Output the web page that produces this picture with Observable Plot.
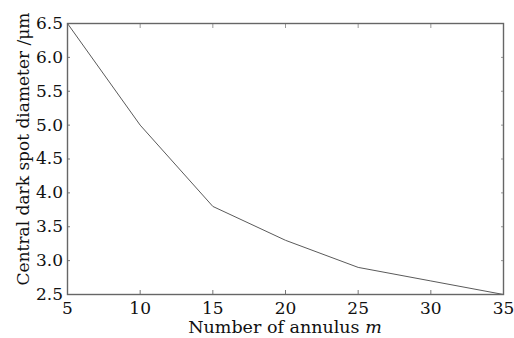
<!DOCTYPE html>
<html><head><meta charset="utf-8">
<script src="https://cdn.jsdelivr.net/npm/d3@7"></script>
<script src="https://cdn.jsdelivr.net/npm/@observablehq/plot@0.6"></script>
<style>html,body{margin:0;padding:0;background:#fff}</style>
</head><body><div id="chart"></div>
<script>
const annulus = [5, 10, 15, 20, 25, 30, 35];
const diameter = [6.5, 5.0, 3.8, 3.3, 2.9, 2.7, 2.5];
const xTicks = [5, 10, 15, 20, 25, 30, 35];
const yTicks = [2.5, 3.0, 3.5, 4.0, 4.5, 5.0, 5.5, 6.0, 6.5];
const xLabelText = "Number of annulus ";
const xLabelVar = "m";
const yLabelText = "Central dark spot diameter /μm";

const data = annulus.map((m, i) => ({m, d: diameter[i]}));
const W = 514, H = 338, mL = 67, mR = 11, mT = 23, mB = 44;
const font = "DejaVu Serif";

const plot = Plot.plot({
  width: W, height: H,
  marginLeft: mL, marginRight: mR, marginTop: mT, marginBottom: mB,
  style: {fontFamily: font, fontSize: "17px", color: "#111", background: "#fff"},
  x: {domain: [5, 35]},
  y: {domain: [2.5, 6.5]},
  marks: [
    Plot.axisX({ticks: xTicks, anchor: "bottom", tickSize: -4, tickPadding: 11, tickFormat: d => String(d), label: null, stroke: "#777"}),
    Plot.axisX({ticks: xTicks, anchor: "top", tickSize: -4, tickFormat: () => "", label: null, stroke: "#999"}),
    Plot.axisY({ticks: yTicks, anchor: "left", tickSize: -3, tickPadding: 7.5, tickFormat: d3.format(".1f"), label: null, stroke: "#777"}),
    Plot.axisY({ticks: yTicks, anchor: "right", tickSize: -3, tickFormat: () => "", label: null, stroke: "#999"}),
    Plot.line(data, {x: "m", y: "d", stroke: "#5a5a5a", strokeWidth: 1}),
    Plot.frame({stroke: "#666", strokeWidth: 1.4})
  ]
});

const svg = d3.select(plot);
const xl = svg.append("text")
  .attr("x", mL + (W - mL - mR) / 2)
  .attr("y", 333)
  .attr("text-anchor", "middle")
  .attr("font-family", font)
  .attr("font-size", 17.5)
  .attr("fill", "#111");
xl.append("tspan").text(xLabelText);
xl.append("tspan").attr("font-style", "italic").text(xLabelVar);

svg.append("text")
  .attr("transform", "translate(29,149) rotate(-90)")
  .attr("text-anchor", "middle")
  .attr("font-family", font)
  .attr("font-size", 17)
  .attr("fill", "#111")
  .text(yLabelText);

document.getElementById("chart").appendChild(plot);
</script>
</body></html>
